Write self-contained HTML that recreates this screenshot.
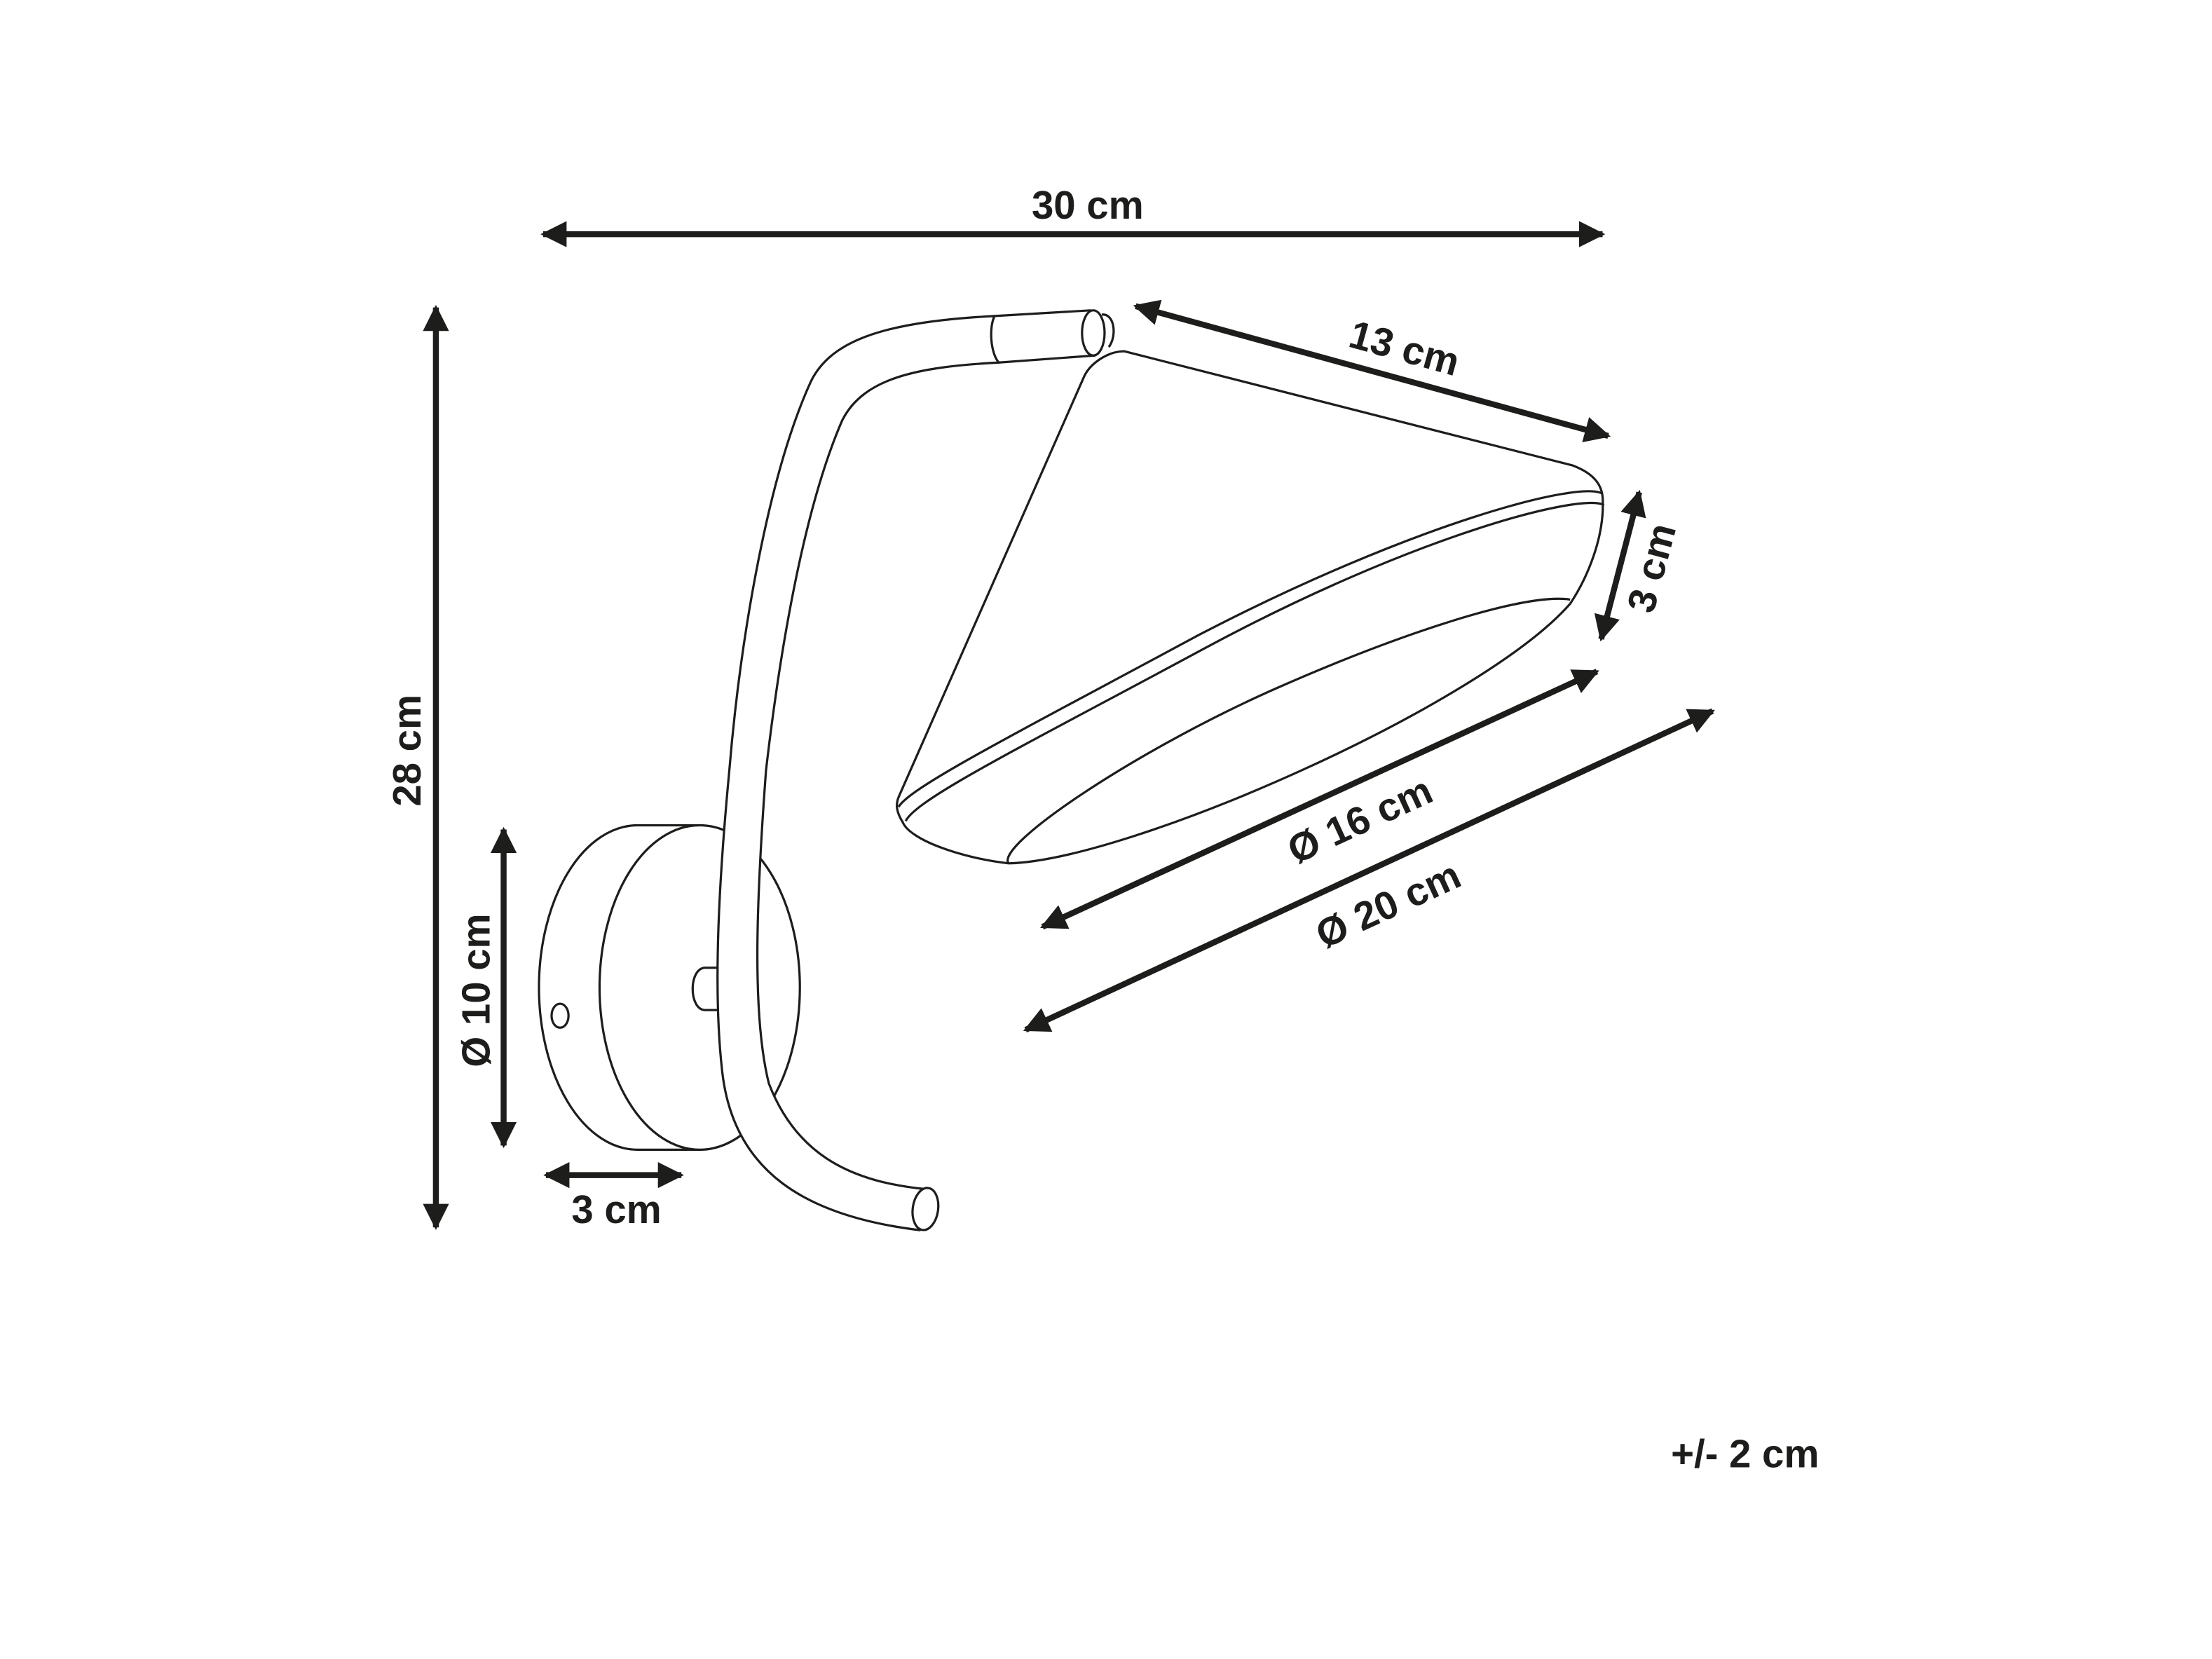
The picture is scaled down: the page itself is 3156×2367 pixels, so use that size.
<!DOCTYPE html>
<html><head><meta charset="utf-8"><style>html,body{margin:0;padding:0;background:#fff}svg{display:block}</style></head>
<body>
<svg width="3156" height="2367" viewBox="0 0 1568 1176" preserveAspectRatio="none" xmlns="http://www.w3.org/2000/svg">
<defs>
<marker id="a" viewBox="0 0 10 10" refX="9" refY="5" markerWidth="4.4" markerHeight="4.4" orient="auto-start-reverse" markerUnits="strokeWidth"><path d="M0,0 L10,5 L0,10 z" fill="#1d1d1b"/></marker>
</defs>
<g stroke="#1d1d1b" stroke-width="4.2" fill="none" marker-start="url(#a)" marker-end="url(#a)">
<line x1="385" y1="166" x2="1136" y2="166"/>
<line x1="309" y1="218" x2="309" y2="870"/>
<line x1="357" y1="588" x2="357" y2="812"/>
<line x1="387" y1="833" x2="483" y2="833"/>
<line x1="805" y1="217" x2="1140" y2="309"/>
<line x1="1162" y1="349" x2="1135" y2="453"/>
<line x1="739" y1="657" x2="1132" y2="476"/>
<line x1="727" y1="730" x2="1214" y2="504"/>
</g>
<g font-family="Liberation Sans, sans-serif" font-weight="bold" font-size="28" fill="#1d1d1b" text-anchor="middle">
<text x="771" y="155">30 cm</text>
<text transform="translate(298,532) rotate(-90)">28 cm</text>
<text transform="translate(347,702) rotate(-90)">Ø 10 cm</text>
<text x="437" y="867">3 cm</text>
<text transform="translate(993,256) rotate(15.5)">13 cm</text>
<text transform="translate(1180,405) rotate(-75)">3 cm</text>
<text transform="translate(968,590) rotate(-24.7)">Ø 16 cm</text>
<text transform="translate(988,650) rotate(-24.7)">Ø 20 cm</text>
<text x="1237" y="1040">+/- 2 cm</text>
</g>
<g stroke="#1d1d1b" stroke-width="1.6" fill="#fff" stroke-linejoin="round">
<path d="M452,585 A70,115 0 0 0 452,815 L496,815 L496,585 Z" />
<ellipse cx="496" cy="700" rx="71" ry="115"/>
<ellipse cx="397" cy="720" rx="6" ry="8.5"/>
<path d="M512,686 L500,686 C488,686 488,716 500,716 L512,716"/>
<path d="M705,224 C630,228 590,240 575,270 C545,335 525,450 517,546 C510,620 505,700 512,760 C520,830 570,862 652,872 L657,843 C605,838 565,820 545,768 C533,720 536,640 543,546 C553,460 570,360 597,298 C612,268 650,260 708,257 Z"/>
<ellipse cx="656" cy="857" rx="9" ry="15" transform="rotate(8 656 857)"/>
<path d="M705,224 L773,220 L776,252 L708,257 C702,250 701,232 705,224 Z"/>
<ellipse cx="775" cy="236" rx="8" ry="16"/>
<path d="M781,223 C790,222 792,238 786,246" fill="none"/>
<path d="M768,268 C772,258 785,249 797,249 L1115,330 C1128,335 1135,342 1136,352 C1138,380 1125,410 1113,428 C1050,500 800,610 715,612 C680,608 645,595 640,583 C635,575 635,570 637,565 Z"/>
<path d="M1136,350 C1120,340 1000,372 850,450 C720,520 645,558 637,572" fill="none"/>
<path d="M1137,358 C1120,349 1000,381 855,459 C725,529 650,566 642,582" fill="none"/>
<path d="M715,612 C705,600 800,535 900,490 C990,450 1080,420 1113,425" fill="none"/>
</g>
</svg>
</body></html>
